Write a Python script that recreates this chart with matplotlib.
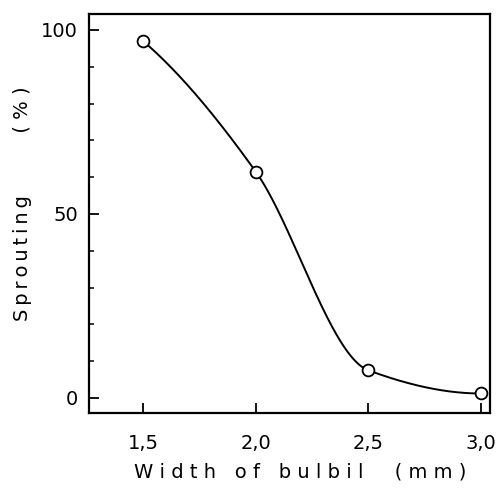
import numpy as np
import matplotlib
matplotlib.use("Agg")
import matplotlib.pyplot as plt
from matplotlib.ticker import MultipleLocator, FixedLocator

# data
width_mm = [1.5, 2.0, 2.5, 3.0]
sprouting = [97.0, 61.5, 7.5, 1.2]
xtick_vals = [1.5, 2.0, 2.5, 3.0]
xtick_labels = ["1,5", "2,0", "2,5", "3,0"]
ytick_vals = [0, 50, 100]


def pchip(x, y, xs):
    # monotone cubic curve just for drawing the smooth line
    x = np.asarray(x, float)
    y = np.asarray(y, float)
    h = np.diff(x)
    dl = np.diff(y) / h
    n = len(x)
    d = np.zeros(n)
    for k in range(1, n - 1):
        if dl[k - 1] * dl[k] <= 0:
            d[k] = 0
        else:
            w1 = 2 * h[k] + h[k - 1]
            w2 = h[k] + 2 * h[k - 1]
            d[k] = (w1 + w2) / (w1 / dl[k - 1] + w2 / dl[k])
    d[0] = ((2 * h[0] + h[1]) * dl[0] - h[0] * dl[1]) / (h[0] + h[1])
    if np.sign(d[0]) != np.sign(dl[0]):
        d[0] = 0
    d[-1] = ((2 * h[-1] + h[-2]) * dl[-1] - h[-1] * dl[-2]) / (h[-1] + h[-2])
    if np.sign(d[-1]) != np.sign(dl[-1]):
        d[-1] = 0
    out = np.empty_like(xs)
    for i, xv in enumerate(xs):
        k = min(np.searchsorted(x, xv, side="right") - 1, n - 2)
        t = (xv - x[k]) / h[k]
        h00 = 2 * t**3 - 3 * t**2 + 1
        h10 = t**3 - 2 * t**2 + t
        h01 = -2 * t**3 + 3 * t**2
        h11 = t**3 - t**2
        out[i] = h00 * y[k] + h10 * h[k] * d[k] + h01 * y[k + 1] + h11 * h[k] * d[k + 1]
    return out


plt.rcParams['font.family'] = ['DejaVu Sans']

fig = plt.figure(figsize=(4.98, 4.88), dpi=100)
ax = fig.add_axes([0.1787, 0.1537, 0.8053, 0.8173])

xs = np.linspace(width_mm[0], width_mm[-1], 300)
ax.plot(xs, pchip(width_mm, sprouting, xs), color="black", lw=1.4, zorder=2)
ax.plot(width_mm, sprouting, "o", ms=8.5, mfc="white", mec="black", mew=1.3, zorder=3)

ax.set_xlim(1.26, 3.04)
ax.set_ylim(-4.1, 104.3)

ax.xaxis.set_major_locator(FixedLocator(xtick_vals))
ax.set_xticklabels(xtick_labels)
ax.yaxis.set_major_locator(FixedLocator(ytick_vals))
ax.yaxis.set_minor_locator(MultipleLocator(10))

ax.tick_params(axis="both", which="major", direction="in", length=7, width=1.3,
               labelsize=14)
ax.tick_params(axis="y", which="minor", direction="in", length=3.5, width=1.1)
ax.tick_params(axis="x", which="major", pad=15)
ax.tick_params(axis="y", which="major", pad=8)
ax.tick_params(top=False, right=False)

for s in ax.spines.values():
    s.set_linewidth(1.6)

ax.set_xlabel("W i d t h   o f   b u l b i l     ( m m )", fontsize=14)
ax.xaxis.set_label_coords(0.526, -0.148)
ax.set_ylabel("S\u2009p\u2009r\u2009o\u2009u\u2009t\u2009i\u2009n\u2009g          ( % )", fontsize=14)
ax.yaxis.set_label_coords(-0.167, 0.526)
ax.xaxis.label.set_va("center")
ax.yaxis.label.set_va("center")

fig.savefig("out.png", dpi=100)
